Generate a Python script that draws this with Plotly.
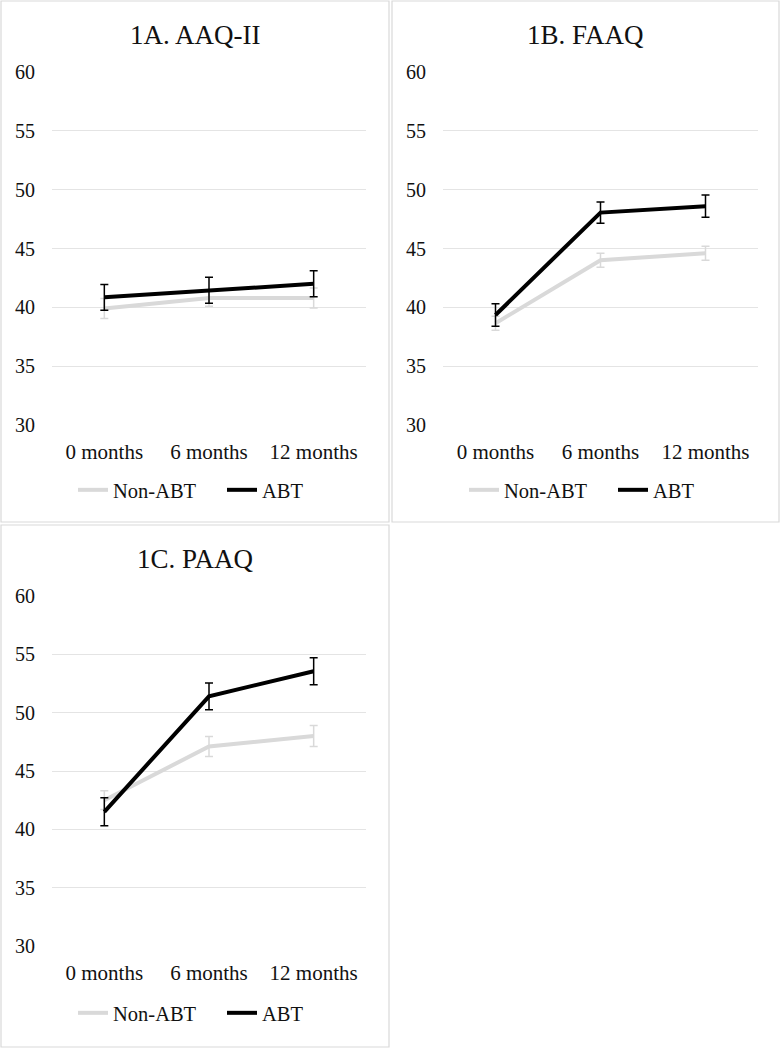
import plotly.graph_objects as go

# data
months = ["0 months", "6 months", "12 months"]

aaq_non_abt = [39.9, 40.8, 40.8]
aaq_non_abt_err = [0.85, 0.7, 0.85]
aaq_abt = [40.85, 41.45, 42.0]
aaq_abt_err = [1.1, 1.1, 1.1]

faaq_non_abt = [38.65, 44.0, 44.6]
faaq_non_abt_err = [0.6, 0.6, 0.6]
faaq_abt = [39.35, 48.05, 48.6]
faaq_abt_err = [0.95, 0.9, 0.95]

paaq_non_abt = [42.5, 47.1, 48.0]
paaq_non_abt_err = [0.8, 0.85, 0.9]
paaq_abt = [41.5, 51.4, 53.55]
paaq_abt_err = [1.2, 1.15, 1.15]

panel_titles = ["1A. AAQ-II", "1B. FAAQ", "1C. PAAQ"]
y_ticks = [30, 35, 40, 45, 50, 55, 60]

W, H = 781, 1050
FONT = "Liberation Serif, Times New Roman, serif"
GRAY = "#d9d9d9"

panels = [
    (aaq_non_abt, aaq_non_abt_err, aaq_abt, aaq_abt_err),
    (faaq_non_abt, faaq_non_abt_err, faaq_abt, faaq_abt_err),
    (paaq_non_abt, paaq_non_abt_err, paaq_abt, paaq_abt_err),
]

# pixel boxes of each panel: frame (left, top, right, bottom),
# plot area (x0, x1, ytop, ybottom), title y, legend (left, y)
boxes = [
    dict(frame=(1, 1, 389, 522), plot=(52, 366, 72, 425), title_y=35, legend=(73, 490)),
    dict(frame=(392, 1, 779, 522), plot=(443, 758, 72, 425), title_y=35, legend=(464, 490)),
    dict(frame=(1, 525, 389, 1047), plot=(52, 366, 596, 946), title_y=559, legend=(73, 1013)),
]

fig = go.Figure()
shapes = []
annotations = []
layout = {}

for i, (vals, box) in enumerate(zip(panels, boxes)):
    non, non_err, abt, abt_err = vals
    sfx = "" if i == 0 else str(i + 1)
    xa, ya, lg = "x" + sfx, "y" + sfx, "legend" + sfx

    fig.add_trace(go.Scatter(
        x=months, y=non, name="Non-ABT", mode="lines",
        line=dict(color=GRAY, width=4),
        error_y=dict(type="data", array=non_err, color=GRAY, thickness=1.5, width=4),
        xaxis=xa, yaxis=ya, legend=lg,
    ))
    fig.add_trace(go.Scatter(
        x=months, y=abt, name="ABT", mode="lines",
        line=dict(color="black", width=4),
        error_y=dict(type="data", array=abt_err, color="black", thickness=1.5, width=4),
        xaxis=xa, yaxis=ya, legend=lg,
    ))

    px0, px1, pyt, pyb = box["plot"]
    layout["xaxis" + sfx] = dict(
        domain=[px0 / W, px1 / W], anchor=ya, type="category",
        range=[-0.5, 2.5], automargin=False,
        showgrid=False, showline=False, zeroline=False, ticks="",
        tickfont=dict(family=FONT, size=21, color="#111"), ticklabelstandoff=12,
    )
    layout["yaxis" + sfx] = dict(
        domain=[1 - pyb / H, 1 - pyt / H], anchor=xa, range=[30, 60],
        tickvals=y_ticks, showgrid=True, gridcolor="#e4e4e4", gridwidth=1,
        showline=False, zeroline=False, ticks="", automargin=False,
        tickfont=dict(family=FONT, size=20, color="#111"), ticklabelstandoff=16,
    )
    fx0, fy0, fx1, fy1 = box["frame"]
    shapes.append(dict(type="rect", xref="paper", yref="paper",
                       x0=fx0 / W, x1=fx1 / W, y0=1 - fy1 / H, y1=1 - fy0 / H,
                       line=dict(color=GRAY, width=1.2), layer="below"))
    cx = (fx0 + fx1) / 2 / W
    annotations.append(dict(text=panel_titles[i], xref="paper", yref="paper",
                            x=cx, y=1 - box["title_y"] / H, showarrow=False,
                            xanchor="center", yanchor="middle",
                            font=dict(family=FONT, size=27, color="#111")))
    lx, ly = box["legend"]
    layout[lg] = dict(orientation="h", x=lx / W, y=1 - ly / H,
                      xanchor="left", yanchor="middle",
                      font=dict(family=FONT, size=20.5, color="#111"),
                      entrywidth=104, entrywidthmode="pixels",
                      bgcolor="rgba(0,0,0,0)", tracegroupgap=0)

fig.update_layout(
    width=W, height=H,
    margin=dict(l=0, r=0, t=0, b=0, pad=0, autoexpand=False),
    paper_bgcolor="white", plot_bgcolor="white",
    showlegend=True, shapes=shapes, annotations=annotations, **layout,
)

fig.write_html("out.html", config={"displayModeBar": False},
               post_script="document.body.style.margin='0';")
